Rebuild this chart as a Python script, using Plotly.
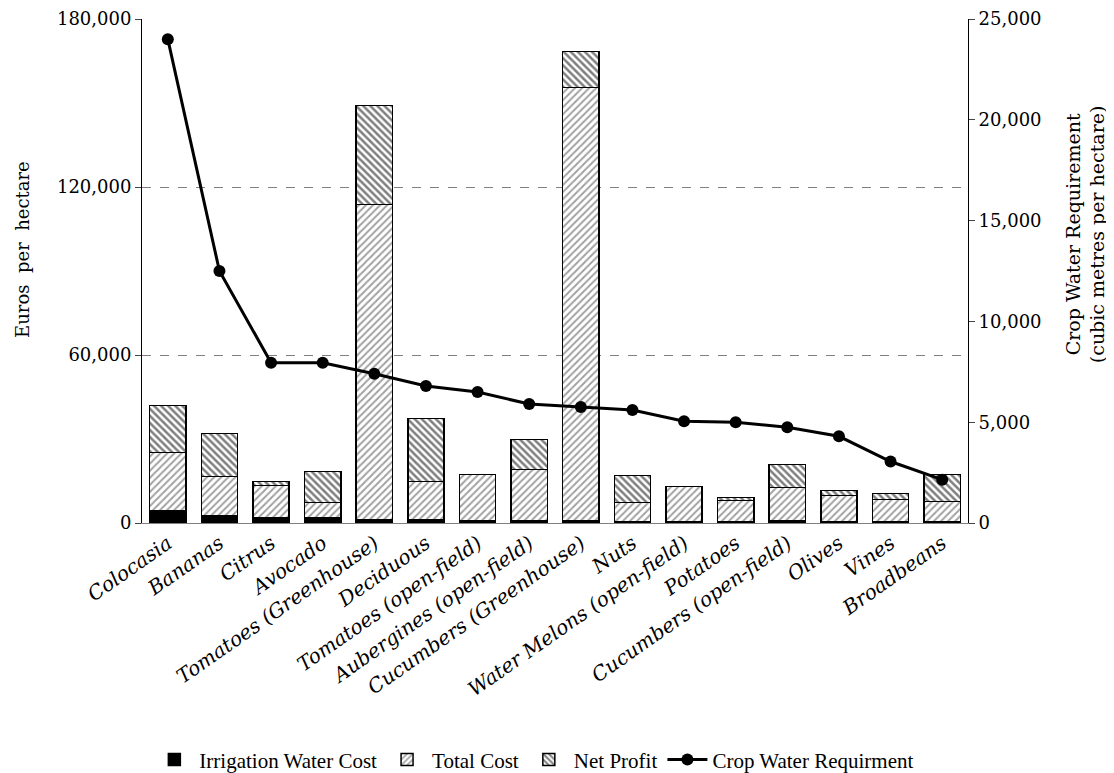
import plotly.graph_objects as go

categories = ["Colocasia", "Bananas", "Citrus", "Avocado", "Tomatoes (Greenhouse)", "Deciduous",
              "Tomatoes (open-field)", "Aubergines (open-field)", "Cucumbers (Greenhouse)", "Nuts",
              "Water Melons (open-field)", "Potatoes", "Cucumbers (open-field)", "Olives", "Vines",
              "Broadbeans"]
irrigation_cost = [4200, 2700, 1900, 1900, 1300, 1200, 900, 900, 700, 500, 600, 500, 700, 400, 500, 400]
total_cost = [21000, 13900, 11500, 5400, 112500, 13600, 16400, 18200, 154800, 6800, 12400, 7500, 12000, 9400, 7900, 7300]
net_profit = [16800, 15400, 1400, 11100, 35300, 22500, 0, 10700, 12900, 9700, 0, 1100, 8200, 1800, 2100, 9600]
water_req = [24000, 12500, 7950, 7950, 7400, 6800, 6500, 5900, 5750, 5600, 5050, 5000, 4750, 4300, 3050, 2150]

FONT = "DejaVu Serif"
LEGEND_FONT = "Liberation Serif"

fig = go.Figure()
fig.add_trace(go.Bar(x=categories, y=irrigation_cost, name="Irrigation Water Cost",
                     marker=dict(color="black", line=dict(color="black", width=1.5))))
fig.add_trace(go.Bar(x=categories, y=total_cost, name="Total Cost",
                     marker=dict(color="white", line=dict(color="black", width=1.5),
                                 pattern=dict(shape="/", size=5, solidity=0.4,
                                              fgcolor="#444444", bgcolor="white"))))
fig.add_trace(go.Bar(x=categories, y=net_profit, name="Net Profit",
                     marker=dict(color="white", line=dict(color="black", width=1.5),
                                 pattern=dict(shape="\\", size=5, solidity=0.5,
                                              fgcolor="black", bgcolor="white"))))
fig.add_trace(go.Scatter(x=categories, y=water_req, name="Crop Water Requirment", yaxis="y2",
                         mode="lines+markers", line=dict(color="black", width=3),
                         marker=dict(color="black", size=12, symbol="circle")))

fig.update_layout(
    width=1106, height=765,
    barmode="stack", bargap=0.3,
    paper_bgcolor="white", plot_bgcolor="white",
    font=dict(family=FONT, size=18, color="black"),
    margin=dict(l=134, r=146, t=11, b=250, autoexpand=False),
    xaxis=dict(range=[-0.5, 15.5], showline=True, linecolor="#808080", linewidth=1, ticks="",
               tickangle=-35, tickfont=dict(family=FONT, size=20, style="italic"),
               showgrid=False, automargin=False),
    yaxis=dict(range=[0, 180000], dtick=60000, tickformat=",", showline=True,
               linecolor="black", linewidth=1, ticks="outside", ticklen=6,
               showgrid=True, gridcolor="#808080", griddash="dash", gridwidth=1,
               zeroline=False, automargin=False, tickfont=dict(size=18)),
    yaxis2=dict(range=[0, 25000], dtick=5000, tickformat=",", overlaying="y", side="right",
                showline=True, linecolor="black", linewidth=1, ticks="outside", ticklen=6,
                showgrid=False, zeroline=False, automargin=False, tickfont=dict(size=18)),
    legend=dict(orientation="h", x=0.475, xanchor="center", y=-0.47, yanchor="middle",
                font=dict(family=LEGEND_FONT, size=21), traceorder="normal", itemwidth=40),
    annotations=[
        dict(text="Euros  per  hectare",
             xref="paper", yref="paper", x=-0.144, y=0.542, xanchor="center",
             yanchor="middle", textangle=-90, showarrow=False,
             font=dict(family=FONT, size=18)),
        dict(text="Crop Water Requirement<br>(cubic metres per hectare)",
             xref="paper", yref="paper", x=1.1416, y=0.573, xanchor="center",
             yanchor="middle", textangle=-90, showarrow=False,
             font=dict(family=FONT, size=19)),
    ],
)

fig.write_html("out.html")
